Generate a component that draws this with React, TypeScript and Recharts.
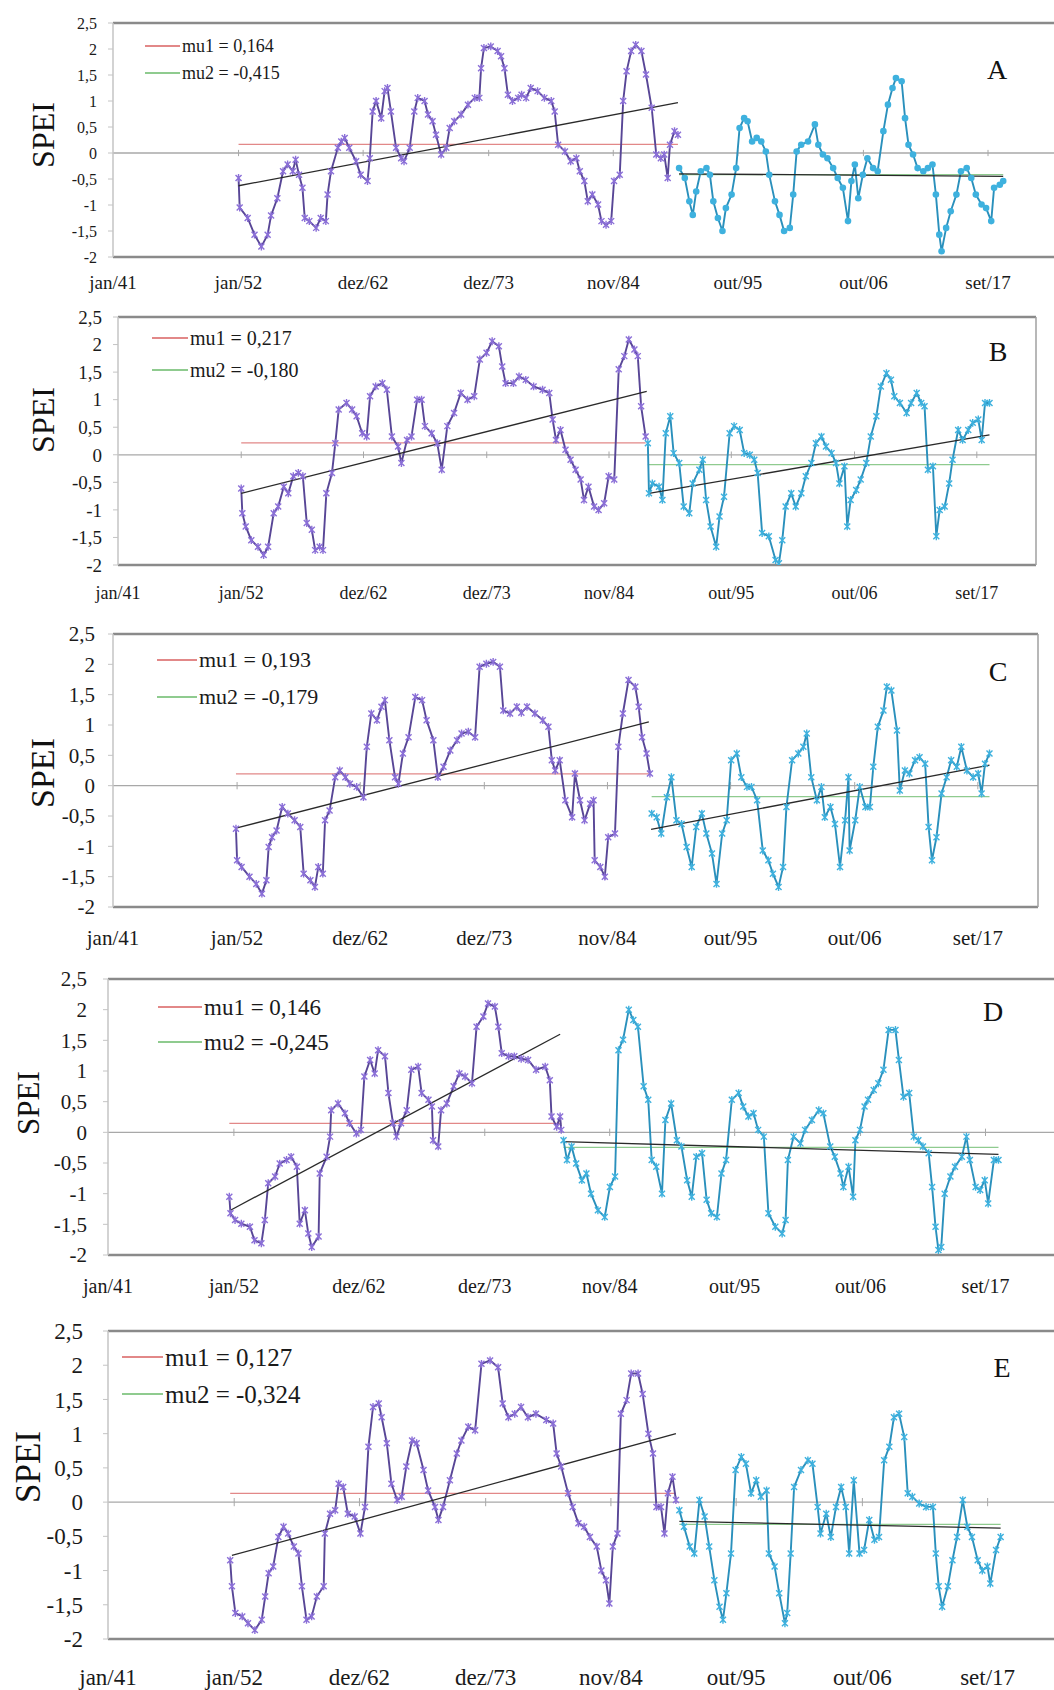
import { LineChart, Line, XAxis, YAxis, ReferenceLine } from "recharts";

type Pt = [number, number];

// axis ticks (Excel date axis, one major unit ~ 4000 days)
const xTickYears = [1941, 1952, 1962.917, 1973.917, 1984.833, 1995.75, 2006.75, 2017.667];
const xTickLabels = ["jan/41", "jan/52", "dez/62", "dez/73", "nov/84", "out/95", "out/06", "set/17"];
const yTicks = [-2, -1.5, -1, -0.5, 0, 0.5, 1, 1.5, 2, 2.5];

const panelLetters = ["A", "B", "C", "D", "E"];
const mu1Values = [0.164, 0.217, 0.193, 0.146, 0.127];
const mu2Values = [-0.415, -0.18, -0.179, -0.245, -0.324];

// ---- A ----
const aPeriod1: Pt[] = [
  [1952.0, -0.48], [1952.1, -1.05], [1952.8, -1.25], [1953.4, -1.57], [1954.0, -1.8], [1954.55, -1.57], [1954.85, -1.2],
  [1955.4, -0.87], [1955.9, -0.35], [1956.3, -0.22], [1956.75, -0.35], [1957.0, -0.13], [1957.3, -0.42], [1957.6, -0.67],
  [1957.8, -1.25], [1958.2, -1.31], [1958.8, -1.44], [1959.2, -1.25], [1959.65, -1.31], [1959.8, -0.8], [1960.1, -0.35],
  [1960.7, 0.1], [1961.0, 0.22], [1961.3, 0.29], [1961.7, 0.1], [1962.3, -0.16], [1962.7, -0.42], [1963.3, -0.54],
  [1963.5, -0.1], [1963.75, 0.8], [1964.05, 1.0], [1964.5, 0.67], [1964.8, 1.19], [1965.05, 1.25], [1965.35, 0.8],
  [1965.8, 0.1], [1966.25, -0.1], [1966.5, -0.16], [1967.0, 0.1], [1967.4, 0.8], [1967.7, 1.06], [1968.3, 1.0],
  [1968.6, 0.74], [1969.0, 0.61], [1969.3, 0.35], [1969.75, -0.03], [1970.2, 0.1], [1970.5, 0.48], [1970.9, 0.61],
  [1971.5, 0.74], [1972.1, 0.93], [1972.7, 1.06], [1973.1, 1.06], [1973.25, 1.63], [1973.5, 2.02], [1974.1, 2.05],
  [1974.7, 1.96], [1975.0, 1.86], [1975.3, 1.63], [1975.6, 1.12], [1976.0, 1.0], [1976.5, 1.06], [1976.8, 1.12],
  [1977.2, 1.06], [1977.6, 1.25], [1978.2, 1.19], [1978.8, 1.06], [1979.4, 1.0], [1979.7, 0.8], [1980.0, 0.16],
  [1980.6, 0.03], [1981.1, -0.16], [1981.6, -0.1], [1981.9, -0.35], [1982.3, -0.54], [1982.6, -0.93], [1983.0, -0.8],
  [1983.5, -0.99], [1983.8, -1.31], [1984.2, -1.38], [1984.65, -1.31], [1984.9, -0.54], [1985.4, -0.42], [1985.7, 1.0],
  [1986.0, 1.57], [1986.4, 1.96], [1986.8, 2.08], [1987.3, 1.96], [1987.7, 1.51], [1988.2, 0.87], [1988.6, -0.03],
  [1989.0, -0.1], [1989.3, -0.03], [1989.6, -0.48], [1989.8, 0.16], [1990.2, 0.42], [1990.5, 0.35],
];
const aPeriod2: Pt[] = [
  [1990.6, -0.29], [1991.1, -0.48], [1991.5, -0.93], [1991.8, -1.19], [1992.1, -0.74], [1992.5, -0.35], [1993.0, -0.29],
  [1993.3, -0.42], [1993.6, -0.93], [1994.0, -1.25], [1994.4, -1.5], [1994.7, -1.06], [1995.2, -0.8], [1995.6, -0.29],
  [1995.9, 0.48], [1996.3, 0.67], [1996.6, 0.61], [1997.0, 0.22], [1997.4, 0.29], [1997.8, 0.22], [1998.2, 0.03],
  [1998.5, -0.42], [1999.0, -0.93], [1999.4, -1.19], [1999.8, -1.5], [2000.3, -1.44], [2000.6, -0.8], [2000.9, 0.03],
  [2001.3, 0.16], [2001.9, 0.22], [2002.5, 0.55], [2002.8, 0.16], [2003.2, -0.03], [2003.6, -0.1], [2004.1, -0.29],
  [2004.5, -0.48], [2004.95, -0.67], [2005.4, -1.31], [2005.7, -0.54], [2006.0, -0.22], [2006.3, -0.87], [2006.7, -0.42],
  [2007.1, -0.1], [2007.6, -0.29], [2008.0, -0.35], [2008.5, 0.42], [2008.9, 0.93], [2009.3, 1.25], [2009.6, 1.44],
  [2010.1, 1.38], [2010.4, 0.67], [2010.7, 0.16], [2011.1, -0.03], [2011.5, -0.29], [2012.0, -0.35], [2012.4, -0.29],
  [2012.8, -0.22], [2013.1, -0.8], [2013.4, -1.57], [2013.6, -1.89], [2014.0, -1.44], [2014.4, -1.12], [2014.9, -0.8],
  [2015.3, -0.35], [2015.8, -0.29], [2016.2, -0.48], [2016.6, -0.8], [2017.1, -0.99], [2017.5, -1.06], [2017.95, -1.31],
  [2018.2, -0.67], [2018.7, -0.61], [2019.0, -0.54],
];
const aTrend1: Pt[] = [[1952.0, -0.63], [1990.5, 0.97]];
const aTrend2: Pt[] = [[1990.6, -0.4], [2019.0, -0.45]];

// ---- B ----
const bPeriod1: Pt[] = [
  [1952.0, -0.61], [1952.1, -1.06], [1952.4, -1.3], [1952.9, -1.55], [1953.5, -1.67], [1954.0, -1.82], [1954.4, -1.67],
  [1954.9, -1.06], [1955.3, -0.94], [1955.8, -0.58], [1956.2, -0.7], [1956.65, -0.39], [1957.1, -0.33], [1957.5, -0.39],
  [1957.85, -1.24], [1958.3, -1.36], [1958.6, -1.73], [1959.0, -1.67], [1959.3, -1.73], [1959.6, -0.7], [1960.1, -0.33],
  [1960.4, 0.21], [1960.7, 0.82], [1961.4, 0.94], [1961.9, 0.82], [1962.3, 0.7], [1962.8, 0.39], [1963.2, 0.33],
  [1963.5, 1.06], [1964.0, 1.24], [1964.6, 1.3], [1965.0, 1.18], [1965.45, 0.33], [1966.0, 0.15], [1966.3, -0.15],
  [1966.8, 0.27], [1967.2, 0.33], [1967.7, 1.0], [1968.1, 1.0], [1968.4, 0.52], [1969.0, 0.39], [1969.5, 0.21],
  [1969.9, -0.27], [1970.4, 0.52], [1971.0, 0.76], [1971.6, 1.12], [1972.2, 1.0], [1972.8, 1.06], [1973.3, 1.73],
  [1973.9, 1.85], [1974.4, 2.06], [1975.0, 1.97], [1975.3, 1.6], [1975.6, 1.3], [1976.3, 1.3], [1976.8, 1.42],
  [1977.4, 1.36], [1978.1, 1.24], [1978.9, 1.18], [1979.5, 1.12], [1979.8, 0.64], [1980.1, 0.27], [1980.5, 0.45],
  [1980.95, 0.09], [1981.4, -0.09], [1981.85, -0.27], [1982.3, -0.45], [1982.6, -0.82], [1983.0, -0.58], [1983.5, -0.94],
  [1983.9, -1.0], [1984.4, -0.88], [1984.8, -0.39], [1985.3, -0.45], [1985.7, 1.55], [1986.2, 1.79], [1986.6, 2.09],
  [1987.1, 1.91], [1987.4, 1.79], [1987.7, 0.88], [1988.1, 0.33],
];
const bPeriod2: Pt[] = [
  [1988.3, 0.21], [1988.4, -0.7], [1988.7, -0.52], [1989.3, -0.58], [1989.6, -0.82], [1989.9, 0.39], [1990.3, 0.7],
  [1990.6, 0.03], [1991.1, -0.15], [1991.5, -0.94], [1992.0, -1.06], [1992.3, -0.52], [1992.9, -0.27], [1993.2, -0.09],
  [1993.5, -0.82], [1993.9, -1.3], [1994.4, -1.67], [1994.7, -1.12], [1995.1, -0.76], [1995.6, 0.39], [1996.0, 0.52],
  [1996.5, 0.45], [1996.9, 0.03], [1997.4, 0.0], [1997.8, -0.09], [1998.1, -0.33], [1998.5, -1.42], [1999.1, -1.48],
  [1999.7, -1.91], [2000.0, -1.97], [2000.3, -1.55], [2000.6, -0.94], [2001.1, -0.7], [2001.5, -0.94], [2002.0, -0.7],
  [2002.4, -0.39], [2002.9, -0.15], [2003.3, 0.21], [2003.8, 0.33], [2004.2, 0.15], [2004.7, 0.03], [2005.1, -0.15],
  [2005.4, -0.52], [2005.85, -0.21], [2006.1, -1.3], [2006.4, -0.82], [2006.9, -0.64], [2007.3, -0.45], [2007.8, -0.15],
  [2008.2, 0.33], [2008.7, 0.7], [2009.1, 1.24], [2009.6, 1.48], [2010.0, 1.36], [2010.3, 1.06], [2010.8, 0.94],
  [2011.4, 0.76], [2011.8, 0.94], [2012.3, 1.12], [2012.7, 0.94], [2013.0, 0.88], [2013.3, -0.27], [2013.75, -0.21],
  [2014.05, -1.48], [2014.35, -1.0], [2014.8, -0.94], [2015.2, -0.52], [2015.5, -0.09], [2016.0, 0.45], [2016.4, 0.27],
  [2016.9, 0.45], [2017.3, 0.58], [2017.8, 0.64], [2018.1, 0.27], [2018.4, 0.94], [2018.8, 0.94],
];
const bTrend1: Pt[] = [[1952.0, -0.7], [1988.2, 1.15]];
const bTrend2: Pt[] = [[1988.4, -0.7], [2018.8, 0.36]];

// ---- C ----
const cPeriod1: Pt[] = [
  [1951.9, -0.71], [1952.0, -1.23], [1952.4, -1.34], [1953.1, -1.5], [1953.7, -1.62], [1954.2, -1.78], [1954.6, -1.56],
  [1954.8, -1.01], [1955.1, -0.85], [1955.5, -0.74], [1956.0, -0.35], [1956.5, -0.46], [1957.1, -0.57], [1957.6, -0.68],
  [1957.9, -1.45], [1958.5, -1.56], [1958.9, -1.67], [1959.2, -1.34], [1959.6, -1.45], [1959.8, -0.57], [1960.2, -0.41],
  [1960.7, 0.14], [1961.1, 0.25], [1961.6, 0.14], [1962.0, 0.03], [1962.6, -0.02], [1963.2, -0.19], [1963.5, 0.64],
  [1963.9, 1.19], [1964.4, 1.08], [1964.8, 1.3], [1965.1, 1.41], [1965.5, 0.75], [1966.0, 0.14], [1966.3, 0.03],
  [1966.7, 0.53], [1967.2, 0.8], [1967.8, 1.46], [1968.4, 1.41], [1968.8, 1.08], [1969.4, 0.75], [1969.8, 0.14],
  [1970.3, 0.31], [1970.9, 0.58], [1971.5, 0.75], [1971.9, 0.86], [1972.5, 0.89], [1973.1, 0.8], [1973.5, 1.96],
  [1974.1, 2.01], [1974.7, 2.04], [1975.3, 1.96], [1975.6, 1.24], [1976.2, 1.19], [1976.8, 1.3], [1977.2, 1.2],
  [1977.7, 1.3], [1978.4, 1.19], [1979.1, 1.08], [1979.6, 0.97], [1979.9, 0.42], [1980.2, 0.25], [1980.6, 0.42],
  [1981.1, -0.24], [1981.7, -0.52], [1981.95, 0.2], [1982.4, -0.24], [1982.8, -0.57], [1983.3, -0.3], [1983.6, -0.24],
  [1983.7, -1.23], [1984.2, -1.34], [1984.6, -1.5], [1984.9, -0.85], [1985.5, -0.79], [1985.8, 0.64], [1986.2, 1.19],
  [1986.7, 1.74], [1987.3, 1.63], [1987.6, 1.3], [1987.9, 0.8], [1988.3, 0.53], [1988.6, 0.2],
];
const cPeriod2: Pt[] = [
  [1988.75, -0.46], [1989.2, -0.52], [1989.6, -0.79], [1990.1, -0.19], [1990.5, 0.14], [1990.95, -0.57], [1991.4, -0.63],
  [1991.85, -1.01], [1992.3, -1.34], [1992.7, -0.68], [1993.2, -0.46], [1993.6, -0.79], [1994.1, -1.12], [1994.5, -1.62],
  [1995.0, -0.79], [1995.4, -0.57], [1995.8, 0.42], [1996.3, 0.53], [1996.7, 0.14], [1997.2, -0.02], [1997.6, -0.02],
  [1998.1, -0.24], [1998.6, -1.07], [1999.1, -1.23], [1999.5, -1.45], [2000.0, -1.67], [2000.4, -1.34], [2000.7, -0.35],
  [2001.2, 0.42], [2001.75, 0.53], [2002.2, 0.64], [2002.5, 0.86], [2002.9, 0.14], [2003.4, -0.24], [2003.8, -0.02],
  [2004.1, -0.52], [2004.6, -0.35], [2005.0, -0.63], [2005.45, -1.34], [2005.9, -0.57], [2006.2, 0.14], [2006.3, -1.07],
  [2006.8, -0.57], [2007.2, -0.02], [2007.7, -0.35], [2008.1, -0.35], [2008.4, 0.31], [2008.8, 0.97], [2009.3, 1.24],
  [2009.6, 1.63], [2010.0, 1.57], [2010.5, 0.91], [2010.75, -0.08], [2011.2, 0.25], [2011.6, 0.2], [2012.1, 0.42],
  [2012.5, 0.47], [2013.0, 0.36], [2013.3, -0.68], [2013.6, -1.23], [2014.0, -0.85], [2014.45, -0.13], [2014.9, 0.14],
  [2015.3, 0.42], [2015.8, 0.31], [2016.2, 0.64], [2016.7, 0.25], [2017.25, 0.14], [2017.7, 0.2], [2018.0, -0.13],
  [2018.3, 0.36], [2018.7, 0.53],
];
const cTrend1: Pt[] = [[1951.9, -0.7], [1988.5, 1.05]];
const cTrend2: Pt[] = [[1988.7, -0.72], [2018.7, 0.34]];

// ---- D ----
const dPeriod1: Pt[] = [
  [1951.6, -1.05], [1951.7, -1.32], [1952.1, -1.43], [1952.65, -1.49], [1953.4, -1.54], [1953.8, -1.76], [1954.4, -1.81],
  [1954.7, -1.43], [1955.0, -0.83], [1955.6, -0.72], [1956.0, -0.51], [1956.6, -0.45], [1957.0, -0.4], [1957.5, -0.56],
  [1957.75, -1.49], [1958.2, -1.27], [1958.5, -1.65], [1958.8, -1.87], [1959.4, -1.7], [1959.5, -0.67], [1960.1, -0.4],
  [1960.4, -0.07], [1960.5, 0.36], [1961.1, 0.47], [1961.7, 0.31], [1962.1, 0.15], [1962.7, -0.02], [1963.1, 0.04],
  [1963.4, 0.91], [1963.9, 1.18], [1964.3, 0.96], [1964.6, 1.34], [1965.2, 1.24], [1965.5, 0.64], [1965.9, 0.15],
  [1966.2, -0.07], [1966.6, 0.15], [1967.1, 0.36], [1967.5, 1.02], [1968.1, 1.07], [1968.4, 0.64], [1969.0, 0.53],
  [1969.3, 0.42], [1969.4, -0.13], [1969.85, -0.23], [1970.1, 0.36], [1970.6, 0.47], [1971.2, 0.75], [1971.7, 0.96],
  [1972.2, 0.91], [1972.8, 0.8], [1973.2, 1.72], [1973.8, 1.89], [1974.2, 2.1], [1974.8, 2.05], [1975.1, 1.72],
  [1975.4, 1.29], [1976.0, 1.24], [1976.5, 1.24], [1977.1, 1.2], [1977.7, 1.18], [1978.4, 1.02], [1979.2, 1.07],
  [1979.6, 0.85], [1979.75, 0.26], [1980.2, 0.09], [1980.5, 0.26], [1980.6, 0.04],
];
const dPeriod2: Pt[] = [
  [1980.8, -0.13], [1981.1, -0.45], [1981.5, -0.23], [1981.9, -0.51], [1982.4, -0.78], [1982.8, -0.67], [1983.2, -1.0],
  [1983.8, -1.27], [1984.4, -1.38], [1984.85, -0.89], [1985.3, -0.72], [1985.6, 1.34], [1986.0, 1.51], [1986.5, 2.0],
  [1986.9, 1.83], [1987.3, 1.72], [1987.8, 0.75], [1988.2, 0.53], [1988.5, -0.45], [1988.9, -0.56], [1989.4, -1.0],
  [1989.7, 0.2], [1990.2, 0.47], [1990.7, -0.13], [1991.1, -0.23], [1991.6, -0.78], [1992.0, -1.05], [1992.4, -0.4],
  [1992.9, -0.34], [1993.3, -1.1], [1993.7, -1.32], [1994.2, -1.38], [1994.6, -0.67], [1995.0, -0.45], [1995.5, 0.53],
  [1996.1, 0.64], [1996.5, 0.42], [1996.95, 0.26], [1997.4, 0.31], [1997.8, 0.04], [1998.3, -0.07], [1998.7, -1.32],
  [1999.3, -1.54], [1999.9, -1.65], [2000.2, -1.43], [2000.4, -0.45], [2000.9, -0.07], [2001.5, -0.18], [2001.9, 0.04],
  [2002.5, 0.2], [2003.1, 0.36], [2003.5, 0.31], [2004.1, -0.23], [2004.5, -0.4], [2005.0, -0.67], [2005.25, -0.89],
  [2005.7, -0.56], [2006.1, -1.05], [2006.3, -0.13], [2006.7, 0.04], [2007.1, 0.42], [2007.4, 0.53], [2007.9, 0.69],
  [2008.3, 0.8], [2008.75, 1.02], [2009.2, 1.67], [2009.8, 1.67], [2010.1, 1.18], [2010.5, 0.58], [2011.0, 0.64],
  [2011.4, -0.07], [2011.8, -0.13], [2012.2, -0.23], [2012.7, -0.34], [2013.0, -0.89], [2013.3, -1.54], [2013.55, -1.92],
  [2013.8, -1.87], [2014.1, -1.0], [2014.6, -0.72], [2015.0, -0.56], [2015.6, -0.4], [2016.0, -0.07], [2016.3, -0.45],
  [2016.8, -0.89], [2017.2, -0.94], [2017.6, -0.78], [2017.9, -1.16], [2018.4, -0.45], [2018.8, -0.45],
];
const dTrend1: Pt[] = [[1951.7, -1.27], [1980.5, 1.6]];
const dTrend2: Pt[] = [[1980.7, -0.15], [2018.8, -0.36]];

// ---- E ----
const ePeriod1: Pt[] = [
  [1951.65, -0.85], [1951.8, -1.23], [1952.1, -1.62], [1952.7, -1.67], [1953.2, -1.77], [1953.8, -1.87], [1954.4, -1.72],
  [1954.7, -1.38], [1955.0, -1.04], [1955.4, -0.94], [1955.85, -0.51], [1956.3, -0.36], [1956.7, -0.46], [1957.2, -0.65],
  [1957.6, -0.75], [1957.9, -1.23], [1958.3, -1.72], [1958.75, -1.67], [1959.2, -1.38], [1959.8, -1.23], [1959.9, -0.46],
  [1960.35, -0.17], [1960.8, -0.12], [1961.1, 0.27], [1961.5, 0.22], [1961.9, -0.17], [1962.5, -0.21], [1963.0, -0.46],
  [1963.4, -0.07], [1963.7, 0.81], [1964.1, 1.39], [1964.6, 1.44], [1964.85, 1.24], [1965.3, 0.86], [1965.7, 0.27],
  [1966.2, 0.03], [1966.6, 0.08], [1967.0, 0.52], [1967.5, 0.9], [1967.9, 0.86], [1968.5, 0.47], [1968.9, 0.17],
  [1969.5, -0.07], [1969.8, -0.26], [1970.2, -0.07], [1970.8, 0.32], [1971.4, 0.71], [1971.8, 0.9], [1972.4, 1.1],
  [1973.0, 1.05], [1973.55, 2.02], [1974.3, 2.07], [1975.0, 1.97], [1975.4, 1.44], [1975.9, 1.24], [1976.45, 1.29],
  [1977.0, 1.39], [1977.6, 1.24], [1978.3, 1.29], [1979.2, 1.2], [1979.8, 1.15], [1980.1, 0.71], [1980.5, 0.52],
  [1981.1, 0.13], [1981.5, -0.07], [1982.0, -0.31], [1982.5, -0.36], [1983.0, -0.51], [1983.6, -0.65], [1984.0, -1.0],
  [1984.4, -1.14], [1984.7, -1.48], [1985.0, -0.65], [1985.4, -0.46], [1985.7, 1.29], [1986.2, 1.49], [1986.6, 1.88],
  [1987.2, 1.88], [1987.6, 1.58], [1988.1, 1.0], [1988.5, 0.71], [1988.8, -0.07], [1989.2, -0.07], [1989.5, -0.46],
  [1989.8, 0.13], [1990.2, 0.37], [1990.5, 0.03],
];
const ePeriod2: Pt[] = [
  [1990.8, -0.12], [1991.2, -0.36], [1991.7, -0.65], [1992.1, -0.75], [1992.55, 0.03], [1993.0, -0.21], [1993.4, -0.65],
  [1993.85, -1.14], [1994.3, -1.53], [1994.6, -1.72], [1994.9, -1.33], [1995.3, -0.75], [1995.7, 0.47], [1996.2, 0.66],
  [1996.6, 0.56], [1997.05, 0.13], [1997.5, 0.32], [1997.9, 0.08], [1998.4, 0.17], [1998.6, -0.75], [1999.1, -0.94],
  [1999.5, -1.33], [2000.0, -1.77], [2000.2, -1.62], [2000.5, -0.75], [2000.8, 0.22], [2001.4, 0.47], [2002.0, 0.61],
  [2002.4, 0.56], [2002.85, -0.07], [2003.1, -0.46], [2003.6, -0.17], [2004.0, -0.51], [2004.45, -0.07], [2004.9, 0.22],
  [2005.3, -0.07], [2005.6, -0.75], [2006.0, 0.32], [2006.5, -0.75], [2006.9, -0.7], [2007.35, -0.26], [2007.8, -0.55],
  [2008.2, -0.51], [2008.65, 0.61], [2009.1, 0.81], [2009.5, 1.24], [2009.95, 1.29], [2010.4, 0.95], [2010.7, 0.13],
  [2011.1, 0.08], [2011.7, -0.02], [2012.3, -0.07], [2012.9, -0.07], [2013.15, -0.75], [2013.4, -1.23], [2013.7, -1.53],
  [2014.2, -1.23], [2014.6, -0.85], [2015.0, -0.51], [2015.5, 0.03], [2015.9, -0.36], [2016.3, -0.51], [2016.8, -0.85],
  [2017.2, -1.0], [2017.65, -0.94], [2017.9, -1.19], [2018.4, -0.7], [2018.8, -0.51],
];
const eTrend1: Pt[] = [[1951.8, -0.78], [1990.5, 1.0]];
const eTrend2: Pt[] = [[1990.8, -0.28], [2018.8, -0.38]];

const FONT = "'Liberation Serif', 'Times New Roman', serif";
const PURPLE_LINE = "#584696";
const PURPLE_MARK = "#8b6fd8";
const CYAN_LINE = "#2a90bc";
const CYAN_MARK = "#3eb1de";
const MU1 = "#e28888";
const MU2 = "#8fcb8f";

type Layout = {
  top: number; bottom: number; left: number; right: number; xMax: number;
  yFont: number; yGap: number; xFont: number; xGap: number;
  spei: [number, number, number];
  legend: { x: number; len: number; y1: number; y2: number; font: number };
  letter: [number, number];
  roundDots?: boolean;
};

const layouts: Layout[] = [
  { top: 23, bottom: 257, left: 113, right: 1058, xMax: 2023.8, yFont: 16, yGap: 11, xFont: 19, xGap: 19,
    spei: [43, 135, 32], legend: { x: 145, len: 35, y1: 46, y2: 73, font: 18 }, letter: [997, 70], roundDots: true },
  { top: 317, bottom: 565, left: 118, right: 1036, xMax: 2022.95, yFont: 19, yGap: 11, xFont: 18, xGap: 21,
    spei: [43, 420, 32], legend: { x: 152, len: 36, y1: 338, y2: 370, font: 20 }, letter: [998, 352] },
  { top: 634, bottom: 907, left: 113, right: 1038, xMax: 2023.0, yFont: 21, yGap: 13, xFont: 21, xGap: 23,
    spei: [43, 773, 34], legend: { x: 157, len: 40, y1: 660, y2: 697, font: 22 }, letter: [998, 672] },
  { top: 979, bottom: 1255, left: 108, right: 1058, xMax: 2024.0, yFont: 21, yGap: 16, xFont: 20, xGap: 24,
    spei: [28, 1103, 31], legend: { x: 158, len: 44, y1: 1007, y2: 1042, font: 23 }, letter: [993, 1012] },
  { top: 1331, bottom: 1639, left: 108, right: 1058, xMax: 2023.8, yFont: 23, yGap: 20, xFont: 23, xGap: 30,
    spei: [28, 1467, 35], legend: { x: 122, len: 41, y1: 1357, y2: 1394, font: 25 }, letter: [1002, 1368] },
];

const series = [
  [aPeriod1, aPeriod2, aTrend1, aTrend2],
  [bPeriod1, bPeriod2, bTrend1, bTrend2],
  [cPeriod1, cPeriod2, cTrend1, cTrend2],
  [dPeriod1, dPeriod2, dTrend1, dTrend2],
  [ePeriod1, ePeriod2, eTrend1, eTrend2],
];

const toRows = (pts: Pt[]) => pts.map(([x, y]) => ({ x, y }));

const starDot = (color: string, s: number) => (props: any) => {
  const { cx, cy, index } = props;
  if (typeof cx !== "number" || typeof cy !== "number") return <g key={`s${index}`} />;
  return (
    <path
      key={`s${index}`}
      d={`M${cx - s},${cy - s}L${cx + s},${cy + s}M${cx - s},${cy + s}L${cx + s},${cy - s}M${cx},${cy - s * 1.3}L${cx},${cy + s * 1.3}`}
      stroke={color}
      strokeWidth={1.4}
      fill="none"
    />
  );
};

const roundDot = (color: string, r: number) => (props: any) => {
  const { cx, cy, index } = props;
  if (typeof cx !== "number" || typeof cy !== "number") return <g key={`r${index}`} />;
  return <circle key={`r${index}`} cx={cx} cy={cy} r={r} fill={color} stroke="none" />;
};

function Panel({ i }: { i: number }) {
  const p = layouts[i];
  const [p1, p2, t1, t2] = series[i];
  const mTop = 12;
  const axisH = 60;
  const chartW = 1060;
  const chartH = mTop + (p.bottom - p.top) + axisH;
  const mu1Line: Pt[] = [[p1[0][0], mu1Values[i]], [p1[p1.length - 1][0], mu1Values[i]]];
  const mu2Line: Pt[] = [[p2[0][0], mu2Values[i]], [p2[p2.length - 1][0], mu2Values[i]]];

  return (
    <div style={{ position: "absolute", left: 0, top: p.top - mTop, width: chartW, height: chartH }}>
      <LineChart width={chartW} height={chartH} margin={{ top: mTop, right: chartW - p.right, bottom: 0, left: 0 }}>
        <XAxis
          type="number"
          dataKey="x"
          domain={[1941, p.xMax]}
          ticks={xTickYears}
          interval={0}
          allowDataOverflow
          tickFormatter={(v: number) => xTickLabels[xTickYears.indexOf(v)] ?? ""}
          axisLine={false}
          tickLine={false}
          tickSize={0}
          tickMargin={p.xGap}
          height={axisH}
          tick={{ fontSize: p.xFont, fill: "#1a1a1a", fontFamily: FONT }}
        />
        <YAxis
          type="number"
          domain={[-2, 2.5]}
          ticks={yTicks}
          interval={0}
          allowDataOverflow
          width={p.left}
          tickFormatter={(v: number) => String(v).replace(".", ",")}
          axisLine={{ stroke: "#c4c4c4", strokeWidth: 1.5 }}
          tickLine={{ stroke: "#c4c4c4" }}
          tickSize={5}
          tickMargin={p.yGap}
          tick={{ fontSize: p.yFont, fill: "#1a1a1a", fontFamily: FONT }}
        />
        <ReferenceLine y={0} stroke="#a8a8a8" strokeWidth={1.3} />
        {xTickYears.slice(1).map((t) => (
          <ReferenceLine key={t} segment={[{ x: t, y: -0.06 }, { x: t, y: 0.06 }]} stroke="#a8a8a8" />
        ))}
        <ReferenceLine y={2.5} stroke="#8a8a8a" strokeWidth={2.5} />
        <ReferenceLine y={-2} stroke="#8a8a8a" strokeWidth={2.5} />
        <ReferenceLine x={p.xMax} stroke="#a0a0a0" strokeWidth={1.5} />

        <Line data={toRows(mu1Line)} dataKey="y" stroke={MU1} strokeWidth={1.3} dot={false} isAnimationActive={false} />
        <Line data={toRows(mu2Line)} dataKey="y" stroke={MU2} strokeWidth={1.3} dot={false} isAnimationActive={false} />
        <Line
          data={toRows(p1)}
          dataKey="y"
          stroke={PURPLE_LINE}
          strokeWidth={1.9}
          dot={starDot(PURPLE_MARK, 3)}
          isAnimationActive={false}
        />
        <Line
          data={toRows(p2)}
          dataKey="y"
          stroke={CYAN_LINE}
          strokeWidth={1.9}
          dot={p.roundDots ? roundDot(CYAN_MARK, 3.3) : starDot(CYAN_MARK, 3)}
          isAnimationActive={false}
        />
        <Line data={toRows(t1)} dataKey="y" stroke="#2a2a2a" strokeWidth={1.3} dot={false} isAnimationActive={false} />
        <Line data={toRows(t2)} dataKey="y" stroke="#2a2a2a" strokeWidth={1.3} dot={false} isAnimationActive={false} />
      </LineChart>
    </div>
  );
}

function Overlay({ i }: { i: number }) {
  const p = layouts[i];
  const lg = p.legend;
  const entries: [string, string, number][] = [
    [MU1, `mu1 = ${mu1Values[i].toFixed(3).replace(".", ",")}`, lg.y1],
    [MU2, `mu2 = ${mu2Values[i].toFixed(3).replace(".", ",")}`, lg.y2],
  ];
  return (
    <>
      {entries.map(([c, label, y]) => (
        <div key={label}>
          <div style={{ position: "absolute", left: lg.x, top: y - 0.75, width: lg.len, height: 1.5, background: c }} />
          <div
            style={{
              position: "absolute", left: lg.x + lg.len + 2, top: y, transform: "translateY(-50%)",
              fontSize: lg.font, lineHeight: 1, fontFamily: FONT, color: "#1a1a1a", whiteSpace: "nowrap",
            }}
          >
            {label}
          </div>
        </div>
      ))}
      <div
        style={{
          position: "absolute", left: p.letter[0], top: p.letter[1], transform: "translate(-50%, -50%)",
          fontSize: 28, lineHeight: 1, fontFamily: FONT, color: "#111",
        }}
      >
        {panelLetters[i]}
      </div>
      <div
        style={{
          position: "absolute", left: p.spei[0], top: p.spei[1], transform: "translate(-50%, -50%) rotate(-90deg)",
          fontSize: p.spei[2], lineHeight: 1, fontFamily: FONT, color: "#111", whiteSpace: "nowrap",
        }}
      >
        SPEI
      </div>
    </>
  );
}

export default function App() {
  return (
    <div
      style={{
        position: "absolute", left: 0, top: 0, width: 1054, height: 1690, overflow: "hidden", background: "#fff",
      }}
    >
      {layouts.map((_, i) => (
        <Panel key={`p${i}`} i={i} />
      ))}
      {layouts.map((_, i) => (
        <Overlay key={`o${i}`} i={i} />
      ))}
    </div>
  );
}
